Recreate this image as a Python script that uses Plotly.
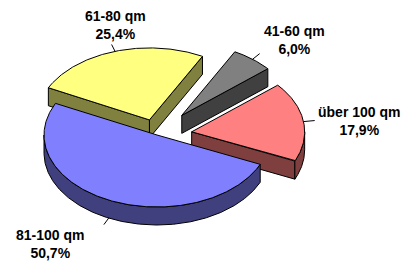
import numpy as np
import plotly.graph_objects as go

# ---- data ----
categories = ["41-60 qm", "61-80 qm", "81-100 qm", "über 100 qm"]
values = [6.0, 25.4, 50.7, 17.9]
pct_labels = ["6,0%", "25,4%", "50,7%", "17,9%"]

# ---- styles ----
top_colors = ["#808080", "#FFFF80", "#8080FF", "#FF8080"]
side_colors = ["#404040", "#80803F", "#40407F", "#803F3F"]
pulls = [0.35, 0.22, 0.0, 0.31]
label_pos = [(294, 40), (115, 25), (50, 244), (359, 121)]

# ---- layout geometry (pixels) ----
W, H = 407, 262
CX, CY = 157, 135
RX, RY = 113, 72
DEPTH = 18
START = 40.4  # degrees, slices go counter-clockwise

total = sum(values)
bounds = START + 360.0 * np.concatenate([[0], np.cumsum(values)]) / total

fig = go.Figure()


def poly(xs, ys, fill):
    fig.add_trace(go.Scatter(x=list(xs) + [xs[0]], y=list(ys) + [ys[0]], mode="lines",
                             fill="toself", fillcolor=fill,
                             line=dict(color="black", width=1),
                             hoverinfo="skip", showlegend=False))


slices = []
for i in range(len(values)):
    a, b = bounds[i], bounds[i + 1]
    mid = np.radians((a + b) / 2)
    cx = CX + pulls[i] * RX * np.cos(mid)
    cy = CY - pulls[i] * RY * np.sin(mid)
    slices.append((i, a, b, mid, cx, cy))

order = sorted(slices, key=lambda s: -np.sin(s[3]))

for (i, a, b, mid, cx, cy) in order:
    def px(t):
        return cx + RX * np.cos(np.radians(t))

    def py(t):
        return cy - RY * np.sin(np.radians(t))

    # radial side faces
    if np.cos(np.radians(a)) > 0:
        poly([cx, px(a), px(a), cx], [cy, py(a), py(a) + DEPTH, cy + DEPTH], side_colors[i])
    if np.cos(np.radians(b)) < 0:
        poly([cx, px(b), px(b), cx], [cy, py(b), py(b) + DEPTH, cy + DEPTH], side_colors[i])
    # outer curved side (front half only)
    for k in range(-1, 3):
        lo = max(a, 180 + 360 * k)
        hi = min(b, 360 + 360 * k)
        if hi - lo > 0.01:
            t = np.linspace(lo, hi, int((hi - lo) * 2) + 2)
            xs = np.concatenate([px(t), px(t[::-1])])
            ys = np.concatenate([py(t), py(t[::-1]) + DEPTH])
            poly(xs, ys, side_colors[i])
    # top face
    t = np.linspace(a, b, int((b - a) * 2) + 2)
    poly(np.concatenate([[cx], px(t)]), np.concatenate([[cy], py(t)]), top_colors[i])

# leader lines and labels
for (i, a, b, mid, cx, cy) in slices:
    dz = DEPTH if np.sin(mid) < 0 else 0
    x0 = cx + RX * np.cos(mid)
    y0 = cy - RY * np.sin(mid) + dz
    x1 = cx + 1.1 * RX * np.cos(mid)
    y1 = cy - 1.1 * RY * np.sin(mid) + dz
    fig.add_trace(go.Scatter(x=[x0, x1], y=[y0, y1], mode="lines",
                             line=dict(color="black", width=1),
                             hoverinfo="skip", showlegend=False))
    lx, ly = label_pos[i]
    fig.add_annotation(x=lx, y=ly, xref="x", yref="y", showarrow=False,
                       text="<b>" + categories[i] + "<br>" + pct_labels[i] + "</b>",
                       font=dict(family="Liberation Sans, Arial", size=14, color="black"),
                       align="center")

fig.update_layout(width=W, height=H, margin=dict(l=0, r=0, t=0, b=0),
                  paper_bgcolor="white", plot_bgcolor="white", showlegend=False,
                  xaxis=dict(range=[0, W], visible=False, fixedrange=True),
                  yaxis=dict(range=[H, 0], visible=False, fixedrange=True))
fig.write_html("out.html", config={"displayModeBar": False},
               post_script="document.body.style.margin='0';document.body.style.overflow='hidden';")
